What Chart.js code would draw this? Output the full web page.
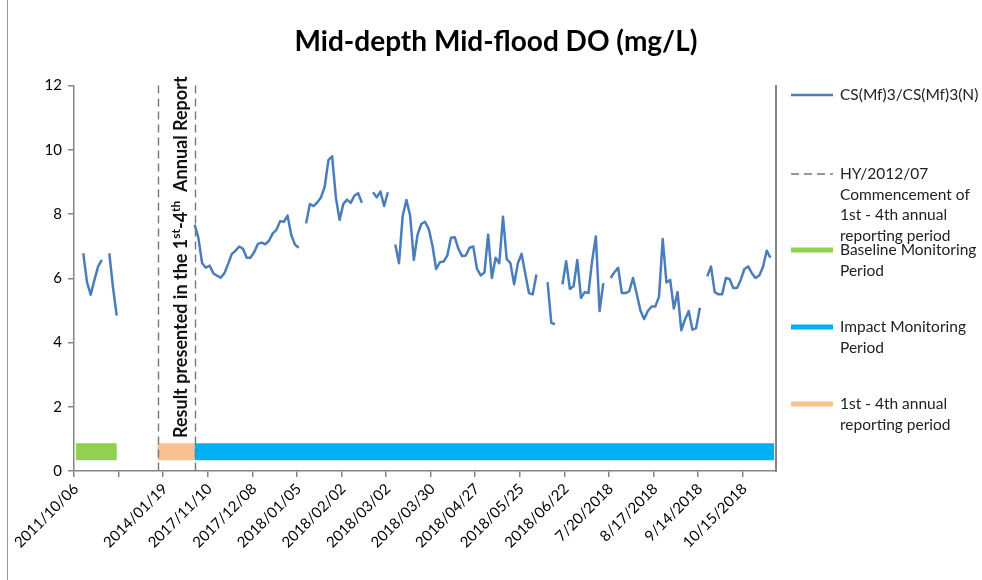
<!DOCTYPE html>
<html><head><meta charset="utf-8">
<script src="https://cdn.jsdelivr.net/npm/chart.js@4.4.1/dist/chart.umd.min.js"></script>
<style>html,body{margin:0;padding:0;background:#fff}canvas{display:block}</style>
</head><body>
<canvas id="c" width="982" height="580"></canvas>
<script>
// ---- data ----
const tickLabels = ['2011/10/06','','2014/01/19','2017/11/10','2017/12/08','2018/01/05','2018/02/02','2018/03/02','2018/03/30','2018/04/27','2018/05/25','2018/06/22','7/20/2018','8/17/2018','9/14/2018','10/15/2018'];
const tickEvery = 12;
const categoryCount = 189;
const doValues = [
 null,null,6.78,5.88,5.49,5.95,6.37,6.57,null,6.78,5.72,4.84,
 null,null,null,null,null,null,null,null,null,null,null,null,
 null,null,null,null,null,null,null,null,7.67,7.25,6.47,6.33,
 6.40,6.16,6.08,6.02,6.16,6.45,6.76,6.86,6.99,6.92,6.64,6.64,
 6.81,7.07,7.11,7.06,7.17,7.40,7.51,7.78,7.76,7.95,7.35,7.05,
 6.95,null,7.71,8.31,8.25,8.36,8.52,8.85,9.68,9.80,8.52,7.82,
 8.31,8.45,8.35,8.57,8.65,8.35,null,null,8.68,8.52,8.70,8.25,
 8.68,null,7.05,6.47,7.95,8.44,7.95,6.57,7.36,7.69,7.76,7.54,
 7.02,6.29,6.50,6.52,6.71,7.26,7.28,6.92,6.69,6.71,6.95,6.99,
 6.29,6.09,6.18,7.36,6.01,6.64,6.47,7.92,6.60,6.47,5.81,6.47,
 6.76,6.14,5.54,5.50,6.12,null,null,5.88,4.61,4.57,null,5.81,
 6.53,5.67,5.75,6.57,5.39,5.57,5.54,6.55,7.30,4.98,5.85,null,
 6.01,6.19,6.33,5.54,5.54,5.60,6.01,5.52,5.00,4.73,4.98,5.12,
 5.12,5.43,7.22,5.87,5.95,5.06,5.57,4.38,4.72,4.98,4.40,4.45,
 5.08,null,6.06,6.37,5.57,5.50,5.50,6.01,5.98,5.70,5.70,5.95,
 6.29,6.37,6.16,6.01,6.09,6.35,6.86,6.64,null
];
const periodLevel = 0.6;
const baselinePeriod = [0, 11];
const reportingPeriod = [22, 32];
const impactPeriod = [32, 188];
const commencementMarkers = [22, 32];
const seriesName = 'CS(Mf)3/CS(Mf)3(N)';
const markerName = ['HY/2012/07','Commencement of','1st - 4th annual','reporting period'];
const baselineName = ['Baseline Monitoring','Period'];
const impactName = ['Impact Monitoring','Period'];
const reportingName = ['1st - 4th annual','reporting period'];
const annotationRuns = [['Result presented in the 1',false],['st',true],['-4',false],['th',true],['  Annual Report',false]];

// ---- build ----
const FONT = 'Lato, "Open Sans", sans-serif';
const labels = Array.from({length: categoryCount}, (_, i) => (i % tickEvery === 0 ? (tickLabels[i / tickEvery] || '') : ''));
const spanData = (r) => labels.map((_, i) => (i >= r[0] && i <= r[1]) ? periodLevel : null);

const C_LINE = '#4a7ebb', C_GREEN = '#92d050', C_BLUE = '#00b0f0', C_ORANGE = '#fac090', C_AXIS = '#868686', C_DASH = '#777777';

const bgPlugin = {
  id: 'bg',
  beforeDraw(chart) {
    const ctx = chart.ctx; ctx.save(); ctx.fillStyle = '#fff'; ctx.fillRect(0, 0, chart.width, chart.height);
    ctx.strokeStyle = '#9a9a9a'; ctx.lineWidth = 1; ctx.beginPath(); ctx.moveTo(7.5, 0); ctx.lineTo(7.5, chart.height); ctx.stroke();
    ctx.restore();
  }
};

const markerPlugin = {
  id: 'markers',
  afterDatasetsDraw(chart) {
    const {ctx, chartArea, scales: {x}} = chart;
    ctx.save();
    ctx.setLineDash([8, 5]); ctx.strokeStyle = C_DASH; ctx.lineWidth = 1.4;
    commencementMarkers.forEach(i => {
      const px = Math.round(x.getPixelForValue(i)) + 0.5;
      ctx.beginPath(); ctx.moveTo(px, chartArea.top); ctx.lineTo(px, chartArea.bottom); ctx.stroke();
    });
    ctx.setLineDash([]);
    const xa = x.getPixelForValue(commencementMarkers[0]), xb = x.getPixelForValue(commencementMarkers[1]);
    const cx = (xa + xb) / 2;
    ctx.translate(cx + 11, chartArea.bottom - 33);
    ctx.rotate(-Math.PI / 2);
    ctx.fillStyle = '#111'; ctx.textBaseline = 'alphabetic'; ctx.textAlign = 'left';
    let pos = 0;
    annotationRuns.forEach(([t, sup]) => {
      ctx.font = sup ? `bold 12px ${FONT}` : `bold 18px ${FONT}`;
      ctx.fillText(t, pos, sup ? -7 : 0);
      pos += ctx.measureText(t).width;
    });
    ctx.restore();
  }
};

const legendPlugin = {
  id: 'sideLegend',
  afterDraw(chart) {
    const {ctx, chartArea} = chart;
    const x0 = chartArea.right + 15, x1 = x0 + 42, tx = x1 + 7, lh = 20.5;
    const items = [
      {y: 95, text: [seriesName], color: C_LINE, w: 2.5, dash: []},
      {y: 174, text: markerName, color: C_DASH, w: 1.5, dash: [8, 5]},
      {y: 250, text: baselineName, color: C_GREEN, w: 5, dash: []},
      {y: 327, text: impactName, color: C_BLUE, w: 5, dash: []},
      {y: 404, text: reportingName, color: C_ORANGE, w: 5, dash: []}
    ];
    ctx.save();
    items.forEach(it => {
      ctx.setLineDash(it.dash); ctx.strokeStyle = it.color; ctx.lineWidth = it.w; ctx.lineCap = 'butt';
      ctx.beginPath(); ctx.moveTo(x0, it.y); ctx.lineTo(x1, it.y); ctx.stroke();
      ctx.fillStyle = '#222'; ctx.font = `15.5px ${FONT}`; ctx.textBaseline = 'middle'; ctx.textAlign = 'left';
      it.text.forEach((t, k) => ctx.fillText(t, tx, it.y + k * lh));
    });
    ctx.restore();
  }
};

const barDs = (label, r, color) => ({
  label, data: spanData(r), borderColor: color, backgroundColor: color, borderWidth: 17,
  borderCapStyle: 'butt', pointRadius: 0, pointHoverRadius: 0, spanGaps: false, order: 2
});

new Chart(document.getElementById('c'), {
  type: 'line',
  data: {
    labels,
    datasets: [
      {label: seriesName, data: doValues, borderColor: C_LINE, backgroundColor: C_LINE, borderWidth: 2.5,
       pointRadius: 0, pointHoverRadius: 0, spanGaps: false, tension: 0, borderJoinStyle: 'round', order: 1},
      barDs(baselineName.join(' '), baselinePeriod, C_GREEN),
      barDs(impactName.join(' '), impactPeriod, C_BLUE),
      barDs(reportingName.join(' '), reportingPeriod, C_ORANGE)
    ]
  },
  options: {
    responsive: false, animation: false, devicePixelRatio: 1,
    layout: {padding: {left: 10, right: 0, top: 0, bottom: 0}},
    plugins: {
      legend: {display: false}, tooltip: {enabled: false},
      title: {display: true, text: 'Mid-depth Mid-flood DO (mg/L)', color: '#000',
        font: {family: FONT, size: 28, weight: 'bold'}, padding: {top: 25, bottom: 27}}
    },
    scales: {
      x: {
        offset: true,
        grid: {offset: true, drawOnChartArea: false, tickLength: 6, lineWidth: 1.5,
          color: (c) => (c.index % tickEvery === 0 && c.index < categoryCount) ? C_AXIS : 'rgba(0,0,0,0)'},
        border: {color: C_AXIS, width: 1.5},
        ticks: {autoSkip: false, maxRotation: 45, minRotation: 45, color: '#000', padding: 3,
          font: {family: FONT, size: 15}},
        afterFit(s) { s.height = 109; }
      },
      y: {
        min: 0, max: 12,
        ticks: {stepSize: 2, color: '#000', padding: 6, font: {family: FONT, size: 15}},
        grid: {drawOnChartArea: false, tickLength: 6, color: C_AXIS, lineWidth: 1.5},
        border: {color: C_AXIS, width: 1.5},
        afterFit(s) { s.width = 64; }
      },
      y2: {
        position: 'right', display: true, min: 0, max: 12,
        ticks: {display: false}, grid: {drawOnChartArea: false, drawTicks: false},
        border: {color: C_AXIS, width: 2},
        afterFit(s) { s.width = 206; }
      }
    }
  },
  plugins: [bgPlugin, markerPlugin, legendPlugin]
});
</script>
</body></html>
